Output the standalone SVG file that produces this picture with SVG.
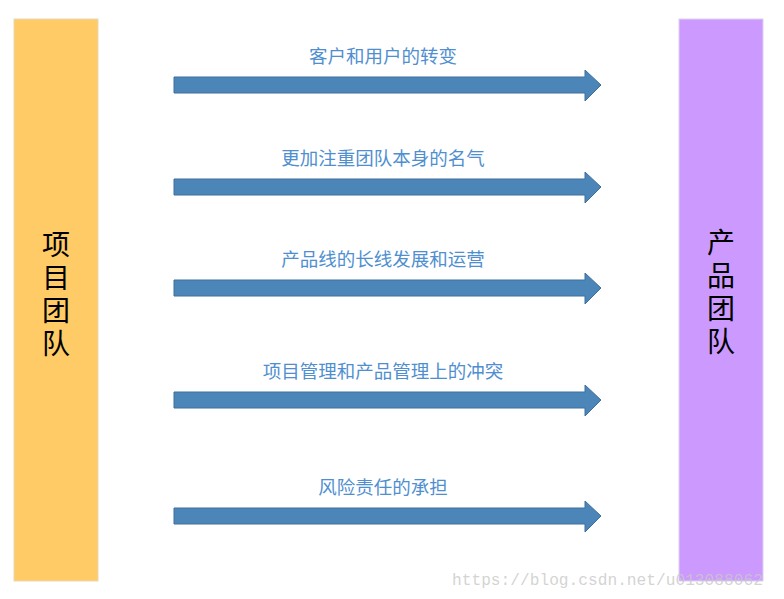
<svg xmlns="http://www.w3.org/2000/svg" width="784" height="599" viewBox="0 0 784 599">
<style>
.lbl{font-family:"Noto Sans CJK SC",sans-serif;font-size:18.5px;fill:#4F8FD0;text-anchor:middle}
.big{font-family:"Noto Sans CJK SC",sans-serif;font-size:28px;fill:#000;text-anchor:middle}
.arr{fill:#4C86B8;stroke:#3E6F9C;stroke-width:1}
</style>
<defs><path id="a" d="M174,-8H585V-15L601,0L585,16V8H174Z"/></defs>
<rect width="784" height="599" fill="#fff"/>
<g id="left"><rect x="14" y="19" width="84" height="562" fill="#FECB66" stroke="#E8D9B8"/>
<text class="big" x="56" y="255">项</text><text class="big" x="56" y="288">目</text><text class="big" x="56" y="321">团</text><text class="big" x="56" y="354">队</text></g>
<g id="right"><rect x="679" y="19" width="84" height="562" fill="#CC99FF" stroke="#DDD0F0"/>
<text class="big" x="721" y="253">产</text><text class="big" x="721" y="286">品</text><text class="big" x="721" y="319">团</text><text class="big" x="721" y="352">队</text></g>
<g id="connectors">
<use href="#a" class="arr" y="85"/><use href="#a" class="arr" y="187"/><use href="#a" class="arr" y="288"/><use href="#a" class="arr" y="400"/><use href="#a" class="arr" y="516"/>
</g>
<g id="labels">
<text class="lbl" x="383" y="63">客户和用户的转变</text>
<text class="lbl" x="383" y="165">更加注重团队本身的名气</text>
<text class="lbl" x="383" y="266">产品线的长线发展和运营</text>
<text class="lbl" x="383" y="378">项目管理和产品管理上的冲突</text>
<text class="lbl" x="383" y="494">风险责任的承担</text>
</g>
<text x="452" y="585" font-family="Liberation Mono,monospace" font-size="16.2" fill="#C8C8C8" fill-opacity="0.8">https://blog.csdn.net/u013088062</text>
</svg>
